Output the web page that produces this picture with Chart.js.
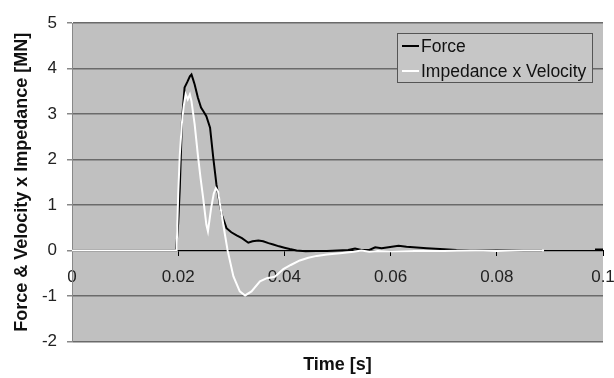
<!DOCTYPE html>
<html>
<head>
<meta charset="utf-8">
<script src="https://cdn.jsdelivr.net/npm/chart.js@4.4.1/dist/chart.umd.min.js"></script>
<style>
  html, body { margin: 0; padding: 0; background: #fff; }
  #wrap { width: 614px; height: 378px; }
</style>
</head>
<body>
<div id="wrap"><canvas id="chart" width="614" height="378"></canvas></div>
<script>
// time [s] and force [MN] measured at the pile head (null = no trace recorded)
const forceTime = [0, 0.0196, 0.0200, 0.0203, 0.0207, 0.0212, 0.0217, 0.0222, 0.0225, 0.0228, 0.0231, 0.0237,
  0.0243, 0.0248, 0.0253, 0.0260, 0.0266, 0.0272, 0.0277, 0.0282, 0.0291, 0.0300, 0.0310, 0.0320, 0.0332,
  0.0340, 0.0351, 0.0360, 0.0370, 0.0379, 0.0390, 0.0400, 0.0410, 0.0423, 0.0440, 0.0460, 0.0480, 0.0500,
  0.0520, 0.0533, 0.0545, 0.0560, 0.0571, 0.0583, 0.0596, 0.0615, 0.0630, 0.0643, 0.0668, 0.0693, 0.0724,
  0.0760, 0.0800, 0.0850, 0.0885, 0.0950, 0.0985, 0.1];
const forceValues = [0, 0, 0.6, 1.37, 2.84, 3.58, 3.7, 3.83, 3.87, 3.76, 3.65, 3.36,
  3.14, 3.05, 2.95, 2.70, 2.04, 1.45, 1.1, 0.79, 0.49, 0.40, 0.33, 0.27, 0.17,
  0.20, 0.22, 0.20, 0.16, 0.13, 0.09, 0.06, 0.03, 0.0, -0.02, -0.01, -0.01, 0.0,
  0.01, 0.04, 0.01, 0.01, 0.07, 0.05, 0.07, 0.1, 0.08, 0.07, 0.05, 0.03, 0.01,
  0.0, 0.0, 0.0, 0.0, null, 0.02, 0.02];

// impedance x particle velocity [MN]
const ivTime = [0, 0.0197, 0.0200, 0.0203, 0.0207, 0.0210, 0.0214, 0.0218, 0.0222, 0.0225, 0.0231, 0.0237,
  0.0242, 0.0247, 0.0253, 0.0256, 0.0262, 0.0267, 0.0271, 0.0275, 0.0279, 0.0288, 0.0293, 0.0304, 0.0316,
  0.0326, 0.0338, 0.0354, 0.0367, 0.0382, 0.0398, 0.0412, 0.0429, 0.0445, 0.0461, 0.0480, 0.0505, 0.0530,
  0.0545, 0.0560, 0.0575, 0.0600, 0.0650, 0.0700, 0.0750, 0.0800, 0.0850, 0.0889];
const ivValues = [0, 0, 1.23, 2.1, 2.8, 3.14, 3.43, 3.32, 3.43, 3.28, 2.77, 2.1,
  1.6, 1.15, 0.57, 0.42, 0.93, 1.25, 1.37, 1.3, 1.0, 0.35, 0.0, -0.57, -0.9,
  -0.99, -0.9, -0.68, -0.61, -0.58, -0.41, -0.32, -0.22, -0.16, -0.12, -0.09, -0.06, -0.03,
  0.0, -0.03, -0.01, -0.02, -0.01, -0.01, 0.0, -0.01, 0.0, 0.0];

const xTicks = [0, 0.02, 0.04, 0.06, 0.08, 0.1];
const yTicks = [-2, -1, 0, 1, 2, 3, 4, 5];

const toPoints = (ts, vs) => ts.map((t, i) => ({ x: t, y: vs[i] }));

// grey plot area like a classic spreadsheet chart
const plotBg = {
  id: 'plotBg',
  beforeDraw(chart) {
    const { ctx, chartArea: a } = chart;
    ctx.save();
    ctx.fillStyle = '#c0c0c0';
    ctx.fillRect(a.left, a.top, a.right - a.left, a.bottom - a.top);
    ctx.restore();
  }
};

// boxed legend inside the plot, top right
const boxLegend = {
  id: 'boxLegend',
  afterDraw(chart) {
    const { ctx } = chart;
    const x = 397, y = 33, w = 195, h = 49;
    ctx.save();
    ctx.fillStyle = '#c6c6c6';
    ctx.fillRect(x, y, w, h);
    ctx.strokeStyle = '#555';
    ctx.lineWidth = 1;
    ctx.strokeRect(x + 0.5, y + 0.5, w, h);
    ctx.font = '17.5px "Liberation Sans", Arial, sans-serif';
    ctx.textBaseline = 'middle';
    chart.data.datasets.forEach((ds, i) => {
      const cy = y + 13 + i * 25;
      ctx.strokeStyle = ds.borderColor;
      ctx.lineWidth = 2;
      ctx.beginPath();
      ctx.moveTo(x + 5, cy);
      ctx.lineTo(x + 22, cy);
      ctx.stroke();
      ctx.fillStyle = '#111';
      ctx.fillText(ds.label, x + 24, cy + 1);
    });
    ctx.restore();
  }
};

new Chart(document.getElementById('chart'), {
  type: 'line',
  data: {
    datasets: [
      { label: 'Force', data: toPoints(forceTime, forceValues), borderColor: '#000', borderWidth: 2, order: 1 },
      { label: 'Impedance x Velocity', data: toPoints(ivTime, ivValues), borderColor: '#fff', borderWidth: 2, order: 0 }
    ]
  },
  options: {
    responsive: false,
    animation: false,
    parsing: false,
    spanGaps: false,
    elements: { point: { radius: 0 }, line: { tension: 0 } },
    layout: { padding: { top: 23, right: 11, left: 0, bottom: 0 } },
    plugins: {
      legend: { display: false },
      tooltip: { enabled: false },
      title: {
        display: true, position: 'bottom', text: 'Time [s]', fullSize: false,
        color: '#111', font: { family: '"Liberation Sans", Arial, sans-serif', size: 18, weight: 'bold' },
        padding: { top: 13, bottom: 2 }
      }
    },
    scales: {
      x: {
        type: 'linear', position: { y: 0 }, min: 0, max: 0.1,
        afterBuildTicks: (s) => { s.ticks = xTicks.map(v => ({ value: v })); },
        afterFit: (s) => { s.paddingLeft = 0; s.paddingRight = 0; },
        ticks: {
          color: '#222', padding: 12, maxRotation: 0,
          font: { family: '"Liberation Sans", Arial, sans-serif', size: 17 },
          callback: (v) => String(+v.toFixed(2))
        },
        grid: { drawOnChartArea: false, tickLength: 5, color: '#000' },
        border: { color: '#000', width: 1 }
      },
      y: {
        min: -2, max: 5,
        afterBuildTicks: (s) => { s.ticks = yTicks.map(v => ({ value: v })); },
        afterFit: (s) => { s.width = 72; s.paddingTop = 0; s.paddingBottom = 0; },
        ticks: {
          color: '#222', padding: 10,
          font: { family: '"Liberation Sans", Arial, sans-serif', size: 17 }
        },
        grid: { color: '#6a6a6a', lineWidth: 1.5, tickLength: 5, tickColor: '#888' },
        border: { color: '#888', width: 1 },
        title: {
          display: true, text: 'Force & Velocity x Impedance [MN]', color: '#111',
          font: { family: '"Liberation Sans", Arial, sans-serif', size: 18, weight: 'bold' },
          padding: { top: 11, bottom: 0 }
        }
      }
    }
  },
  plugins: [plotBg, boxLegend]
});
</script>
</body>
</html>
